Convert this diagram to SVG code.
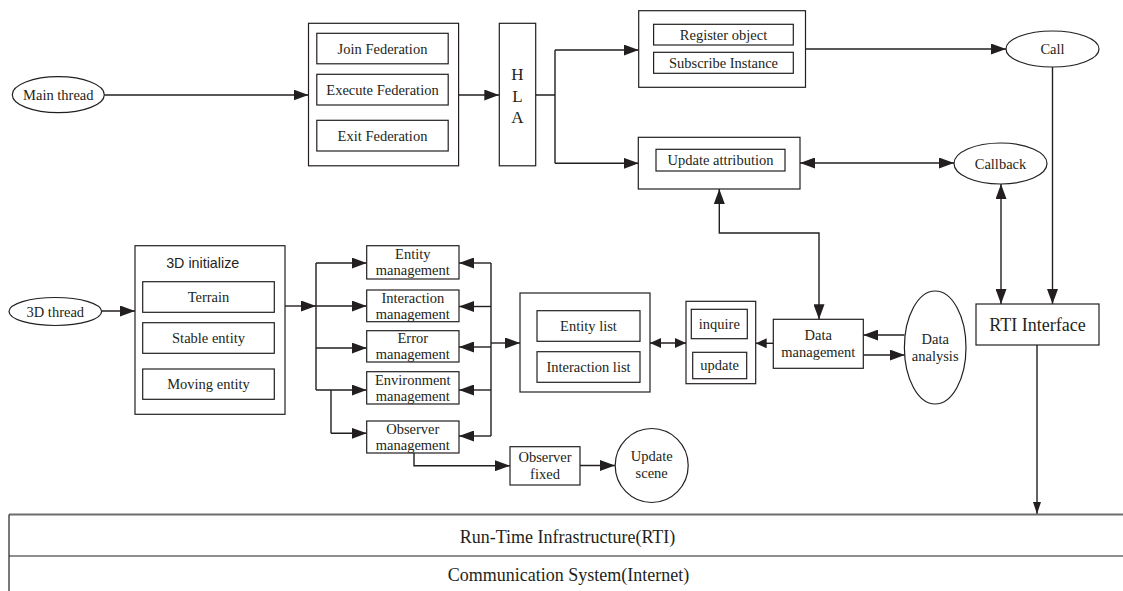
<svg xmlns="http://www.w3.org/2000/svg" width="1123" height="591" viewBox="0 0 1123 591">
<defs>
<marker id="ah" markerUnits="userSpaceOnUse" markerWidth="15" markerHeight="11" refX="15" refY="5.5" orient="auto-start-reverse"><path d="M0,0 L15,5.5 L0,11 z" fill="#231f20"/></marker>
<marker id="ahs" markerUnits="userSpaceOnUse" markerWidth="11" markerHeight="10" refX="11" refY="5" orient="auto-start-reverse"><path d="M0,0 L11,5 L0,10 z" fill="#231f20"/></marker>
<marker id="aht" markerUnits="userSpaceOnUse" markerWidth="12" markerHeight="8" refX="12" refY="4" orient="auto"><path d="M0,0 L12,4 L0,8 z" fill="#231f20"/></marker>
</defs>
<style>
rect,ellipse{fill:#fff;stroke:#231f20;stroke-width:1.2}
.c path{fill:none;stroke:#231f20;stroke-width:1.4}
text{font-family:"Liberation Serif","Times New Roman",serif;font-size:14.5px;fill:#231f20;text-anchor:middle}
.sans{font-family:"Liberation Sans",Arial,sans-serif;font-size:14.3px}
.big{font-size:18px}
.ae{marker-end:url(#ah)}
.ab{marker-start:url(#ah);marker-end:url(#ah)}
.se{marker-end:url(#ahs)}
.sb{marker-start:url(#ahs);marker-end:url(#ahs)}
</style>
<rect x="0" y="0" width="1123" height="591" style="fill:#fff;stroke:none"/>

<g class="c" id="connectors">
<path class="ae" d="M104.3,95 H308.5"/>
<path class="ae" d="M458.6,95 H499.3"/>
<path d="M535.7,95 H555 M555,50 V163.3"/>
<path class="ae" d="M555,50 H638.7"/>
<path class="ae" d="M555,163.3 H638.7"/>
<path class="ae" d="M805.5,49 H1006"/>
<path class="ab" d="M800,163 H954"/>
<path class="ae" d="M1052.5,67 V304"/>
<path class="ab" d="M1001,184 V304"/>
<path class="ab" d="M819,319.3 V233 H719.3 V189"/>
<path style="marker-end:url(#aht)" d="M1037,345 V514"/>
<path class="ae" d="M101.6,311 H135"/>
<path class="ae" d="M285,306 H316"/>
<path d="M316,263 V390 M331,390 V433.3"/>
<path class="ae" d="M316,263 H366.7"/>
<path class="ae" d="M316,306 H366.7"/>
<path class="ae" d="M316,348 H366.7"/>
<path class="ae" d="M316,390 H366.7"/>
<path class="ae" d="M331,433.3 H366.7"/>
<path d="M491,263 V436"/>
<path class="ae" d="M491,263 H459"/>
<path class="ae" d="M491,306.5 H459"/>
<path class="ae" d="M491,347 H459"/>
<path class="ae" d="M491,390 H459"/>
<path class="ae" d="M491,436 H459"/>
<path class="ae" d="M491,343 H520"/>
<path class="sb" d="M650,343 H686"/>
<path class="se" d="M773.3,343.3 H755.7"/>
<path class="ae" d="M904.5,335 H863.3"/>
<path class="ae" d="M863.3,355 H904.7"/>
<path class="ae" d="M414,453 V465.7 H510"/>
<path class="ae" d="M580,465.5 H615"/>
</g>

<g id="main-thread"><ellipse cx="58.3" cy="94.7" rx="46" ry="18"/><text x="58.3" y="100">Main thread</text></g>

<g id="federation">
<rect x="308.5" y="23.3" width="150.1" height="142.5"/>
<rect x="316.8" y="33.3" width="131.4" height="30.5"/>
<text x="382.5" y="53.5">Join Federation</text>
<rect x="316.8" y="74.3" width="131.4" height="30.7"/>
<text x="382.5" y="94.5">Execute Federation</text>
<rect x="316.8" y="120.3" width="131.4" height="30.7"/>
<text x="382.5" y="140.5">Exit Federation</text>
</g>

<g id="hla">
<rect x="499.3" y="23.3" width="36.4" height="142.5"/>
<text x="517.5" y="80" style="font-size:17px">H</text>
<text x="517.5" y="102" style="font-size:17px">L</text>
<text x="517.5" y="123" style="font-size:17px">A</text>
</g>

<g id="register">
<rect x="638.7" y="10.7" width="166.8" height="76.6"/>
<rect x="653.6" y="24.3" width="139.7" height="20.7"/>
<text x="723.5" y="40">Register object</text>
<rect x="653.6" y="52.3" width="139.7" height="21"/>
<text x="723.5" y="67.5">Subscribe Instance</text>
</g>

<g id="update-attribution">
<rect x="638.3" y="137.3" width="161.7" height="51.7"/>
<rect x="656" y="149.3" width="129" height="21.7"/>
<text x="720.5" y="165.3">Update attribution</text>
</g>

<g id="call"><ellipse cx="1052.5" cy="49" rx="46.5" ry="18"/><text x="1052.5" y="54">Call</text></g>
<g id="callback"><ellipse cx="1000.5" cy="163.5" rx="46.5" ry="20.5"/><text x="1000.5" y="168.5">Callback</text></g>

<g id="rti-interface">
<rect x="976" y="304" width="123" height="41"/>
<text class="big" x="1037.5" y="330.5">RTI Interface</text>
</g>

<g id="thread-3d"><ellipse cx="55.3" cy="311.5" rx="46.3" ry="14"/><text x="55.3" y="316.5">3D thread</text></g>

<g id="init-3d">
<rect x="135" y="245.7" width="150" height="168.6"/>
<text class="sans" x="202.7" y="267.7">3D initialize</text>
<rect x="142.7" y="281.7" width="131.6" height="30.6"/>
<text x="208.5" y="302">Terrain</text>
<rect x="142.7" y="322.7" width="131.6" height="30.6"/>
<text x="208.5" y="343">Stable entity</text>
<rect x="142.7" y="369" width="131.6" height="30.3"/>
<text x="208.5" y="389">Moving entity</text>
</g>

<g id="entity-management"><rect x="366.7" y="245.7" width="92.3" height="33.3"/><text x="412.8" y="258.7">Entity</text><text x="412.8" y="274.7">management</text></g>
<g id="interaction-management"><rect x="366.7" y="290" width="92.3" height="31.7"/><text x="412.8" y="302.5">Interaction</text><text x="412.8" y="318.5">management</text></g>
<g id="error-management"><rect x="366.7" y="330.7" width="92.3" height="31.3"/><text x="412.8" y="343">Error</text><text x="412.8" y="359">management</text></g>
<g id="environment-management"><rect x="366.7" y="371.7" width="92.3" height="32.3"/><text x="412.8" y="384.5">Environment</text><text x="412.8" y="400.5">management</text></g>
<g id="observer-management"><rect x="366.7" y="421" width="92.3" height="32"/><text x="412.8" y="434">Observer</text><text x="412.8" y="450">management</text></g>

<g id="lists">
<rect x="520" y="293" width="130" height="99"/>
<rect x="537" y="310.7" width="103" height="30.6"/>
<text x="588.5" y="331">Entity list</text>
<rect x="537" y="351.7" width="103" height="30.6"/>
<text x="588.5" y="372">Interaction list</text>
</g>

<g id="inquire-update">
<rect x="686" y="301.3" width="69.7" height="82.4"/>
<rect x="691.3" y="309.3" width="56" height="29.4"/>
<text x="719.3" y="328.5">inquire</text>
<rect x="692.7" y="352.3" width="54" height="26.4"/>
<text x="719.7" y="370">update</text>
</g>

<g id="data-management"><rect x="773.3" y="319.3" width="90" height="49"/><text x="818.3" y="340">Data</text><text x="818.3" y="356.5">management</text></g>
<g id="data-analysis"><ellipse cx="935.2" cy="347.5" rx="30.8" ry="56.5"/><text x="935.2" y="344">Data</text><text x="935.2" y="360.5">analysis</text></g>

<g id="observer-fixed"><rect x="510" y="446.7" width="70" height="38.3"/><text x="545" y="461.5">Observer</text><text x="545" y="478.5">fixed</text></g>
<g id="update-scene"><ellipse cx="651.7" cy="465.5" rx="36.5" ry="37"/><text x="651.7" y="460.5">Update</text><text x="651.7" y="477.5">scene</text></g>

<g id="infrastructure">
<path d="M9,514.5 H1123" style="fill:none;stroke:#6d6d6d;stroke-width:2"/>
<path d="M9,556 H1123 M9,514.5 V591" style="fill:none;stroke:#231f20;stroke-width:1.2"/>
<text class="big" x="567.5" y="543">Run-Time Infrastructure(RTI)</text>
<text class="big" x="568.5" y="581">Communication System(Internet)</text>
</g>
</svg>
